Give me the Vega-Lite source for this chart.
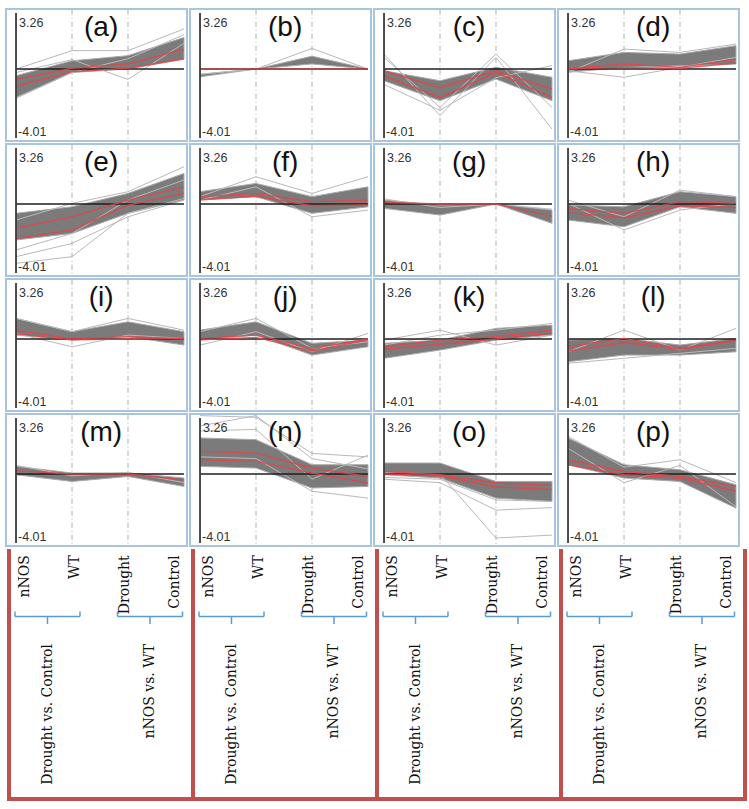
{
"$schema":"https://vega.github.io/schema/vega-lite/v6.json",
"padding":{"left":5,"top":8,"right":0,"bottom":0},
"background":"white",
"config":{"view":{"stroke":null},"font":"Liberation Sans","header":{"labels":false,"title":null,"labelExpr":"''","labelFontSize":0,"labelPadding":0,"titlePadding":0,"titleFontSize":0},"headerFacet":{"labels":false,"title":null,"labelExpr":"''","labelFontSize":0,"labelPadding":0,"titlePadding":0}},
"spacing":0,
"vconcat":[
{
"data":{"values":[
{"p":"a","k":"l","lab":"(a)"},
{"p":"a","k":"b","x":0,"lo":-1.65,"hi":-0.39},{"p":"a","k":"b","x":1,"lo":-0.2,"hi":0.48},{"p":"a","k":"b","x":2,"lo":0.0,"hi":0.78},{"p":"a","k":"b","x":3,"lo":0.58,"hi":1.84},
{"p":"a","k":"r","s":"r1","x":0,"y":-0.6},{"p":"a","k":"r","s":"r1","x":1,"y":0.05},{"p":"a","k":"r","s":"r1","x":2,"y":0.3},{"p":"a","k":"r","s":"r1","x":3,"y":1.15},
{"p":"a","k":"r","s":"r2","x":0,"y":-1.0},{"p":"a","k":"r","s":"r2","x":1,"y":-0.15},{"p":"a","k":"r","s":"r2","x":2,"y":0.05},{"p":"a","k":"r","s":"r2","x":3,"y":0.6},
{"p":"a","k":"o","s":"o1","x":0,"y":0.0},{"p":"a","k":"o","s":"o1","x":1,"y":1.07},{"p":"a","k":"o","s":"o1","x":2,"y":1.07},{"p":"a","k":"o","s":"o1","x":3,"y":2.33},
{"p":"a","k":"o","s":"o2","x":0,"y":-0.2},{"p":"a","k":"o","s":"o2","x":1,"y":0.55},{"p":"a","k":"o","s":"o2","x":2,"y":-0.6},{"p":"a","k":"o","s":"o2","x":3,"y":1.5},
{"p":"a","k":"o","s":"o3","x":0,"y":-1.7},{"p":"a","k":"o","s":"o3","x":1,"y":-0.2},{"p":"a","k":"o","s":"o3","x":2,"y":0.6},{"p":"a","k":"o","s":"o3","x":3,"y":2.0},

{"p":"b","k":"l","lab":"(b)"},
{"p":"b","k":"b","x":0,"lo":-0.45,"hi":-0.3},{"p":"b","k":"b","x":1,"lo":0.0,"hi":0.0},{"p":"b","k":"b","x":2,"lo":0.3,"hi":0.75},{"p":"b","k":"b","x":3,"lo":0.0,"hi":0.0},
{"p":"b","k":"r","s":"r1","x":0,"y":0.0},{"p":"b","k":"r","s":"r1","x":1,"y":0.0},{"p":"b","k":"r","s":"r1","x":2,"y":0.0},{"p":"b","k":"r","s":"r1","x":3,"y":0.0},
{"p":"b","k":"o","s":"o1","x":0,"y":-0.3},{"p":"b","k":"o","s":"o1","x":1,"y":0.0},{"p":"b","k":"o","s":"o1","x":2,"y":1.2},{"p":"b","k":"o","s":"o1","x":3,"y":0.0},

{"p":"c","k":"l","lab":"(c)"},
{"p":"c","k":"b","x":0,"lo":-0.68,"hi":-0.1},{"p":"c","k":"b","x":1,"lo":-1.84,"hi":-0.68},{"p":"c","k":"b","x":2,"lo":-0.58,"hi":0.1},{"p":"c","k":"b","x":3,"lo":-1.84,"hi":-0.48},
{"p":"c","k":"r","s":"r1","x":0,"y":-0.1},{"p":"c","k":"r","s":"r1","x":1,"y":-1.07},{"p":"c","k":"r","s":"r1","x":2,"y":-0.1},{"p":"c","k":"r","s":"r1","x":3,"y":-1.16},
{"p":"c","k":"r","s":"r2","x":0,"y":-0.39},{"p":"c","k":"r","s":"r2","x":1,"y":-1.65},{"p":"c","k":"r","s":"r2","x":2,"y":-0.2},{"p":"c","k":"r","s":"r2","x":3,"y":-1.65},
{"p":"c","k":"o","s":"o1","x":0,"y":0.87},{"p":"c","k":"o","s":"o1","x":1,"y":-2.71},{"p":"c","k":"o","s":"o1","x":2,"y":0.68},{"p":"c","k":"o","s":"o1","x":3,"y":-3.49},
{"p":"c","k":"o","s":"o2","x":0,"y":0.68},{"p":"c","k":"o","s":"o2","x":1,"y":-2.23},{"p":"c","k":"o","s":"o2","x":2,"y":0.87},{"p":"c","k":"o","s":"o2","x":3,"y":-2.23},
{"p":"c","k":"o","s":"o3","x":0,"y":-0.9},{"p":"c","k":"o","s":"o3","x":1,"y":-2.4},{"p":"c","k":"o","s":"o3","x":2,"y":-0.5},{"p":"c","k":"o","s":"o3","x":3,"y":0.2},

{"p":"d","k":"l","lab":"(d)"},
{"p":"d","k":"b","x":0,"lo":-0.19,"hi":0.48},{"p":"d","k":"b","x":1,"lo":0.1,"hi":0.97},{"p":"d","k":"b","x":2,"lo":0.19,"hi":0.87},{"p":"d","k":"b","x":3,"lo":0.29,"hi":1.36},
{"p":"d","k":"r","s":"r1","x":0,"y":0.0},{"p":"d","k":"r","s":"r1","x":1,"y":0.3},{"p":"d","k":"r","s":"r1","x":2,"y":0.1},{"p":"d","k":"r","s":"r1","x":3,"y":0.58},
{"p":"d","k":"r","s":"r2","x":0,"y":0.0},{"p":"d","k":"r","s":"r2","x":1,"y":0.1},{"p":"d","k":"r","s":"r2","x":2,"y":0.05},{"p":"d","k":"r","s":"r2","x":3,"y":0.35},
{"p":"d","k":"o","s":"o1","x":0,"y":-0.19},{"p":"d","k":"o","s":"o1","x":1,"y":1.16},{"p":"d","k":"o","s":"o1","x":2,"y":0.97},{"p":"d","k":"o","s":"o1","x":3,"y":1.45},
{"p":"d","k":"o","s":"o2","x":0,"y":-0.1},{"p":"d","k":"o","s":"o2","x":1,"y":-0.48},{"p":"d","k":"o","s":"o2","x":2,"y":0.1},{"p":"d","k":"o","s":"o2","x":3,"y":0.68},

{"p":"e","k":"l","lab":"(e)"},
{"p":"e","k":"b","x":0,"lo":-2.09,"hi":-0.54},{"p":"e","k":"b","x":1,"lo":-1.71,"hi":-0.16},{"p":"e","k":"b","x":2,"lo":-0.54,"hi":0.62},{"p":"e","k":"b","x":3,"lo":0.23,"hi":1.78},
{"p":"e","k":"r","s":"r1","x":0,"y":-1.41},{"p":"e","k":"r","s":"r1","x":1,"y":-0.74},{"p":"e","k":"r","s":"r1","x":2,"y":0.23},{"p":"e","k":"r","s":"r1","x":3,"y":1.0},
{"p":"e","k":"r","s":"r2","x":0,"y":-2.0},{"p":"e","k":"r","s":"r2","x":1,"y":-1.51},{"p":"e","k":"r","s":"r2","x":2,"y":-0.06},{"p":"e","k":"r","s":"r2","x":3,"y":0.62},
{"p":"e","k":"o","s":"o1","x":0,"y":-3.45},{"p":"e","k":"o","s":"o1","x":1,"y":-3.06},{"p":"e","k":"o","s":"o1","x":2,"y":-0.54},{"p":"e","k":"o","s":"o1","x":3,"y":0.33},
{"p":"e","k":"o","s":"o2","x":0,"y":-3.06},{"p":"e","k":"o","s":"o2","x":1,"y":-2.29},{"p":"e","k":"o","s":"o2","x":2,"y":-0.74},{"p":"e","k":"o","s":"o2","x":3,"y":0.23},
{"p":"e","k":"o","s":"o3","x":0,"y":-0.93},{"p":"e","k":"o","s":"o3","x":1,"y":0.04},{"p":"e","k":"o","s":"o3","x":2,"y":0.72},{"p":"e","k":"o","s":"o3","x":3,"y":2.17},
{"p":"e","k":"o","s":"o4","x":0,"y":-2.67},{"p":"e","k":"o","s":"o4","x":1,"y":-1.71},{"p":"e","k":"o","s":"o4","x":2,"y":0.23},{"p":"e","k":"o","s":"o4","x":3,"y":1.4},

{"p":"f","k":"l","lab":"(f)"},
{"p":"f","k":"b","x":0,"lo":0.23,"hi":0.72},{"p":"f","k":"b","x":1,"lo":0.43,"hi":1.2},{"p":"f","k":"b","x":2,"lo":-0.54,"hi":0.43},{"p":"f","k":"b","x":3,"lo":-0.16,"hi":1.0},
{"p":"f","k":"r","s":"r1","x":0,"y":0.43},{"p":"f","k":"r","s":"r1","x":1,"y":0.62},{"p":"f","k":"r","s":"r1","x":2,"y":0.14},{"p":"f","k":"r","s":"r1","x":3,"y":0.23},
{"p":"f","k":"r","s":"r2","x":0,"y":0.25},{"p":"f","k":"r","s":"r2","x":1,"y":0.45},{"p":"f","k":"r","s":"r2","x":2,"y":-0.1},{"p":"f","k":"r","s":"r2","x":3,"y":-0.05},
{"p":"f","k":"o","s":"o1","x":0,"y":0.43},{"p":"f","k":"o","s":"o1","x":1,"y":1.59},{"p":"f","k":"o","s":"o1","x":2,"y":0.62},{"p":"f","k":"o","s":"o1","x":3,"y":1.59},
{"p":"f","k":"o","s":"o2","x":0,"y":0.23},{"p":"f","k":"o","s":"o2","x":1,"y":1.0},{"p":"f","k":"o","s":"o2","x":2,"y":-0.74},{"p":"f","k":"o","s":"o2","x":3,"y":-0.35},

{"p":"g","k":"l","lab":"(g)"},
{"p":"g","k":"b","x":0,"lo":-0.25,"hi":0.23},{"p":"g","k":"b","x":1,"lo":-0.64,"hi":-0.06},{"p":"g","k":"b","x":2,"lo":0.0,"hi":0.0},{"p":"g","k":"b","x":3,"lo":-1.12,"hi":-0.35},
{"p":"g","k":"r","s":"r1","x":0,"y":0.1},{"p":"g","k":"r","s":"r1","x":1,"y":0.0},{"p":"g","k":"r","s":"r1","x":2,"y":0.0},{"p":"g","k":"r","s":"r1","x":3,"y":-0.7},
{"p":"g","k":"o","s":"o1","x":0,"y":0.3},{"p":"g","k":"o","s":"o1","x":1,"y":-0.2},{"p":"g","k":"o","s":"o1","x":2,"y":0.0},{"p":"g","k":"o","s":"o1","x":3,"y":-0.3},

{"p":"h","k":"l","lab":"(h)"},
{"p":"h","k":"b","x":0,"lo":-0.93,"hi":-0.06},{"p":"h","k":"b","x":1,"lo":-1.32,"hi":-0.16},{"p":"h","k":"b","x":2,"lo":-0.16,"hi":0.72},{"p":"h","k":"b","x":3,"lo":-0.54,"hi":0.43},
{"p":"h","k":"r","s":"r1","x":0,"y":-0.25},{"p":"h","k":"r","s":"r1","x":1,"y":-0.54},{"p":"h","k":"r","s":"r1","x":2,"y":0.14},{"p":"h","k":"r","s":"r1","x":3,"y":0.04},
{"p":"h","k":"r","s":"r2","x":0,"y":-0.5},{"p":"h","k":"r","s":"r2","x":1,"y":-0.8},{"p":"h","k":"r","s":"r2","x":2,"y":-0.1},{"p":"h","k":"r","s":"r2","x":3,"y":-0.2},
{"p":"h","k":"o","s":"o1","x":0,"y":0.04},{"p":"h","k":"o","s":"o1","x":1,"y":-1.51},{"p":"h","k":"o","s":"o1","x":2,"y":-0.35},{"p":"h","k":"o","s":"o1","x":3,"y":0.04},
{"p":"h","k":"o","s":"o2","x":0,"y":0.23},{"p":"h","k":"o","s":"o2","x":1,"y":-0.74},{"p":"h","k":"o","s":"o2","x":2,"y":0.81},{"p":"h","k":"o","s":"o2","x":3,"y":0.43},

{"p":"i","k":"l","lab":"(i)"},
{"p":"i","k":"b","x":0,"lo":0.23,"hi":1.2},{"p":"i","k":"b","x":1,"lo":-0.06,"hi":0.43},{"p":"i","k":"b","x":2,"lo":0.14,"hi":1.0},{"p":"i","k":"b","x":3,"lo":-0.35,"hi":0.43},
{"p":"i","k":"r","s":"r1","x":0,"y":0.52},{"p":"i","k":"r","s":"r1","x":1,"y":0.0},{"p":"i","k":"r","s":"r1","x":2,"y":0.14},{"p":"i","k":"r","s":"r1","x":3,"y":0.0},
{"p":"i","k":"r","s":"r2","x":0,"y":0.3},{"p":"i","k":"r","s":"r2","x":1,"y":-0.05},{"p":"i","k":"r","s":"r2","x":2,"y":0.0},{"p":"i","k":"r","s":"r2","x":3,"y":0.05},
{"p":"i","k":"o","s":"o1","x":0,"y":0.33},{"p":"i","k":"o","s":"o1","x":1,"y":-0.45},{"p":"i","k":"o","s":"o1","x":2,"y":0.23},{"p":"i","k":"o","s":"o1","x":3,"y":0.04},
{"p":"i","k":"o","s":"o2","x":0,"y":1.2},{"p":"i","k":"o","s":"o2","x":1,"y":0.43},{"p":"i","k":"o","s":"o2","x":2,"y":1.2},{"p":"i","k":"o","s":"o2","x":3,"y":0.52},

{"p":"j","k":"l","lab":"(j)"},
{"p":"j","k":"b","x":0,"lo":-0.06,"hi":0.52},{"p":"j","k":"b","x":1,"lo":0.23,"hi":1.0},{"p":"j","k":"b","x":2,"lo":-0.93,"hi":-0.25},{"p":"j","k":"b","x":3,"lo":-0.45,"hi":-0.06},
{"p":"j","k":"r","s":"r1","x":0,"y":0.04},{"p":"j","k":"r","s":"r1","x":1,"y":0.23},{"p":"j","k":"r","s":"r1","x":2,"y":-0.54},{"p":"j","k":"r","s":"r1","x":3,"y":0.0},
{"p":"j","k":"r","s":"r2","x":0,"y":-0.05},{"p":"j","k":"r","s":"r2","x":1,"y":0.1},{"p":"j","k":"r","s":"r2","x":2,"y":-0.7},{"p":"j","k":"r","s":"r2","x":3,"y":-0.05},
{"p":"j","k":"o","s":"o1","x":0,"y":-0.35},{"p":"j","k":"o","s":"o1","x":1,"y":0.43},{"p":"j","k":"o","s":"o1","x":2,"y":-0.74},{"p":"j","k":"o","s":"o1","x":3,"y":0.33},
{"p":"j","k":"o","s":"o2","x":0,"y":0.43},{"p":"j","k":"o","s":"o2","x":1,"y":1.2},{"p":"j","k":"o","s":"o2","x":2,"y":-0.54},{"p":"j","k":"o","s":"o2","x":3,"y":-0.16},

{"p":"k","k":"l","lab":"(k)"},
{"p":"k","k":"b","x":0,"lo":-1.12,"hi":-0.25},{"p":"k","k":"b","x":1,"lo":-0.64,"hi":-0.06},{"p":"k","k":"b","x":2,"lo":-0.06,"hi":0.62},{"p":"k","k":"b","x":3,"lo":0.23,"hi":0.81},
{"p":"k","k":"r","s":"r1","x":0,"y":-0.45},{"p":"k","k":"r","s":"r1","x":1,"y":-0.06},{"p":"k","k":"r","s":"r1","x":2,"y":0.14},{"p":"k","k":"r","s":"r1","x":3,"y":0.52},
{"p":"k","k":"r","s":"r2","x":0,"y":-0.6},{"p":"k","k":"r","s":"r2","x":1,"y":-0.3},{"p":"k","k":"r","s":"r2","x":2,"y":0.0},{"p":"k","k":"r","s":"r2","x":3,"y":0.35},
{"p":"k","k":"o","s":"o1","x":0,"y":-0.06},{"p":"k","k":"o","s":"o1","x":1,"y":0.52},{"p":"k","k":"o","s":"o1","x":2,"y":-0.35},{"p":"k","k":"o","s":"o1","x":3,"y":0.23},
{"p":"k","k":"o","s":"o2","x":0,"y":-0.35},{"p":"k","k":"o","s":"o2","x":1,"y":0.23},{"p":"k","k":"o","s":"o2","x":2,"y":0.52},{"p":"k","k":"o","s":"o2","x":3,"y":0.91},

{"p":"l","k":"l","lab":"(l)"},
{"p":"l","k":"b","x":0,"lo":-1.32,"hi":-0.06},{"p":"l","k":"b","x":1,"lo":-0.93,"hi":0.04},{"p":"l","k":"b","x":2,"lo":-0.93,"hi":-0.35},{"p":"l","k":"b","x":3,"lo":-0.74,"hi":0.04},
{"p":"l","k":"r","s":"r1","x":0,"y":-0.45},{"p":"l","k":"r","s":"r1","x":1,"y":0.04},{"p":"l","k":"r","s":"r1","x":2,"y":-0.54},{"p":"l","k":"r","s":"r1","x":3,"y":-0.06},
{"p":"l","k":"r","s":"r2","x":0,"y":-0.7},{"p":"l","k":"r","s":"r2","x":1,"y":-0.2},{"p":"l","k":"r","s":"r2","x":2,"y":-0.6},{"p":"l","k":"r","s":"r2","x":3,"y":-0.1},
{"p":"l","k":"o","s":"o1","x":0,"y":-0.74},{"p":"l","k":"o","s":"o1","x":1,"y":0.52},{"p":"l","k":"o","s":"o1","x":2,"y":-0.64},{"p":"l","k":"o","s":"o1","x":3,"y":0.62},
{"p":"l","k":"o","s":"o2","x":0,"y":-1.41},{"p":"l","k":"o","s":"o2","x":1,"y":-1.12},{"p":"l","k":"o","s":"o2","x":2,"y":-0.83},{"p":"l","k":"o","s":"o2","x":3,"y":-0.54},

{"p":"m","k":"l","lab":"(m)"},
{"p":"m","k":"b","x":0,"lo":-0.04,"hi":0.45},{"p":"m","k":"b","x":1,"lo":-0.43,"hi":0.06},{"p":"m","k":"b","x":2,"lo":-0.14,"hi":0.06},{"p":"m","k":"b","x":3,"lo":-0.72,"hi":-0.23},
{"p":"m","k":"r","s":"r1","x":0,"y":0.2},{"p":"m","k":"r","s":"r1","x":1,"y":0.0},{"p":"m","k":"r","s":"r1","x":2,"y":0.0},{"p":"m","k":"r","s":"r1","x":3,"y":-0.35},
{"p":"m","k":"o","s":"o1","x":0,"y":0.5},{"p":"m","k":"o","s":"o1","x":1,"y":-0.1},{"p":"m","k":"o","s":"o1","x":2,"y":0.1},{"p":"m","k":"o","s":"o1","x":3,"y":-0.5},

{"p":"n","k":"l","lab":"(n)"},
{"p":"n","k":"b","x":0,"lo":0.45,"hi":2.1},{"p":"n","k":"b","x":1,"lo":0.35,"hi":2.0},{"p":"n","k":"b","x":2,"lo":-0.81,"hi":0.54},{"p":"n","k":"b","x":3,"lo":-0.72,"hi":0.54},
{"p":"n","k":"r","s":"r1","x":0,"y":1.32},{"p":"n","k":"r","s":"r1","x":1,"y":1.22},{"p":"n","k":"r","s":"r1","x":2,"y":0.35},{"p":"n","k":"r","s":"r1","x":3,"y":-0.14},
{"p":"n","k":"r","s":"r2","x":0,"y":0.83},{"p":"n","k":"r","s":"r2","x":1,"y":0.74},{"p":"n","k":"r","s":"r2","x":2,"y":0.06},{"p":"n","k":"r","s":"r2","x":3,"y":-0.52},
{"p":"n","k":"o","s":"o1","x":0,"y":3.4},{"p":"n","k":"o","s":"o1","x":1,"y":3.3},{"p":"n","k":"o","s":"o1","x":2,"y":1.2},{"p":"n","k":"o","s":"o1","x":3,"y":1.0},
{"p":"n","k":"o","s":"o2","x":0,"y":2.8},{"p":"n","k":"o","s":"o2","x":1,"y":3.4},{"p":"n","k":"o","s":"o2","x":2,"y":0.9},{"p":"n","k":"o","s":"o2","x":3,"y":0.3},
{"p":"n","k":"o","s":"o3","x":0,"y":1.0},{"p":"n","k":"o","s":"o3","x":1,"y":0.9},{"p":"n","k":"o","s":"o3","x":2,"y":-1.0},{"p":"n","k":"o","s":"o3","x":3,"y":-1.4},
{"p":"n","k":"o","s":"o4","x":0,"y":2.5},{"p":"n","k":"o","s":"o4","x":1,"y":2.6},{"p":"n","k":"o","s":"o4","x":2,"y":-0.3},{"p":"n","k":"o","s":"o4","x":3,"y":1.1},

{"p":"o","k":"l","lab":"(o)"},
{"p":"o","k":"b","x":0,"lo":-0.04,"hi":0.64},{"p":"o","k":"b","x":1,"lo":-0.23,"hi":0.64},{"p":"o","k":"b","x":2,"lo":-1.4,"hi":-0.43},{"p":"o","k":"b","x":3,"lo":-1.59,"hi":-0.43},
{"p":"o","k":"r","s":"r1","x":0,"y":0.15},{"p":"o","k":"r","s":"r1","x":1,"y":-0.04},{"p":"o","k":"r","s":"r1","x":2,"y":-0.52},{"p":"o","k":"r","s":"r1","x":3,"y":-0.66},
{"p":"o","k":"r","s":"r2","x":0,"y":0.0},{"p":"o","k":"r","s":"r2","x":1,"y":-0.1},{"p":"o","k":"r","s":"r2","x":2,"y":-0.75},{"p":"o","k":"r","s":"r2","x":3,"y":-0.9},
{"p":"o","k":"o","s":"o1","x":0,"y":-0.3},{"p":"o","k":"o","s":"o1","x":1,"y":-0.5},{"p":"o","k":"o","s":"o1","x":2,"y":-2.1},{"p":"o","k":"o","s":"o1","x":3,"y":-1.95},
{"p":"o","k":"o","s":"o2","x":0,"y":0.1},{"p":"o","k":"o","s":"o2","x":1,"y":0.0},{"p":"o","k":"o","s":"o2","x":2,"y":-3.72},{"p":"o","k":"o","s":"o2","x":3,"y":-3.55},
{"p":"o","k":"o","s":"o3","x":0,"y":-0.2},{"p":"o","k":"o","s":"o3","x":1,"y":-0.3},{"p":"o","k":"o","s":"o3","x":2,"y":-1.5},{"p":"o","k":"o","s":"o3","x":3,"y":-1.6},

{"p":"p","k":"l","lab":"(p)"},
{"p":"p","k":"b","x":0,"lo":0.54,"hi":2.1},{"p":"p","k":"b","x":1,"lo":-0.23,"hi":0.54},{"p":"p","k":"b","x":2,"lo":-0.43,"hi":0.25},{"p":"p","k":"b","x":3,"lo":-1.98,"hi":-0.62},
{"p":"p","k":"r","s":"r1","x":0,"y":0.83},{"p":"p","k":"r","s":"r1","x":1,"y":0.15},{"p":"p","k":"r","s":"r1","x":2,"y":-0.14},{"p":"p","k":"r","s":"r1","x":3,"y":-0.72},
{"p":"p","k":"r","s":"r2","x":0,"y":0.54},{"p":"p","k":"r","s":"r2","x":1,"y":-0.04},{"p":"p","k":"r","s":"r2","x":2,"y":-0.23},{"p":"p","k":"r","s":"r2","x":3,"y":-1.0},
{"p":"p","k":"o","s":"o1","x":0,"y":2.2},{"p":"p","k":"o","s":"o1","x":1,"y":0.4},{"p":"p","k":"o","s":"o1","x":2,"y":0.83},{"p":"p","k":"o","s":"o1","x":3,"y":-0.5},
{"p":"p","k":"o","s":"o2","x":0,"y":1.5},{"p":"p","k":"o","s":"o2","x":1,"y":-0.5},{"p":"p","k":"o","s":"o2","x":2,"y":0.5},{"p":"p","k":"o","s":"o2","x":3,"y":-1.9}
]},
"facet":{"field":"p","type":"nominal","header":{"labels":false,"title":null,"labelExpr":"''","labelFontSize":0,"labelPadding":0,"titlePadding":0}},
"columns":4,
"spacing":3,
"bounds":"flush",
"spec":{
"width":181,"height":132,
"view":{"stroke":"#a9c5de","strokeWidth":2},
"layer":[
{"transform":[{"filter":"datum.k=='l'"}],"mark":{"type":"rule","color":"#bcbcbc","strokeDash":[5,3,1,3],"strokeWidth":1.2},
 "encoding":{"x":{"datum":1,"type":"quantitative","scale":{"domain":[-0.179,3.054],"nice":false,"zero":false},"axis":null},
 "y":{"datum":3.45,"type":"quantitative","scale":{"domain":[-4.185,3.493],"nice":false,"zero":false},"axis":null},"y2":{"datum":-4.15}}},
{"transform":[{"filter":"datum.k=='l'"}],"mark":{"type":"rule","color":"#bcbcbc","strokeDash":[5,3,1,3],"strokeWidth":1.2},
 "encoding":{"x":{"datum":2,"type":"quantitative","scale":{"domain":[-0.179,3.054],"nice":false,"zero":false},"axis":null},
 "y":{"datum":3.45,"type":"quantitative","scale":{"domain":[-4.185,3.493],"nice":false,"zero":false},"axis":null},"y2":{"datum":-4.15}}},
{"transform":[{"filter":"datum.k=='b'"}],"mark":{"type":"area","color":"#7b7b7b","stroke":"#a8a8a8","strokeWidth":1,"clip":true},
 "encoding":{"x":{"field":"x","type":"quantitative","scale":{"domain":[-0.179,3.054],"nice":false,"zero":false},"axis":null},
 "y":{"field":"lo","type":"quantitative","scale":{"domain":[-4.185,3.493],"nice":false,"zero":false},"axis":null},"y2":{"field":"hi"}}},
{"transform":[{"filter":"datum.k=='o'"}],"mark":{"type":"line","color":"#b9b9b9","strokeWidth":1,"clip":true},
 "encoding":{"x":{"field":"x","type":"quantitative","scale":{"domain":[-0.179,3.054],"nice":false,"zero":false},"axis":null},
 "y":{"field":"y","type":"quantitative","scale":{"domain":[-4.185,3.493],"nice":false,"zero":false},"axis":null},"detail":{"field":"s"}}},
{"transform":[{"filter":"datum.k=='l'"}],"mark":{"type":"rule","color":"#1e1e1e","strokeWidth":1.5},
 "encoding":{"x":{"datum":0,"type":"quantitative","scale":{"domain":[-0.179,3.054],"nice":false,"zero":false},"axis":null},"x2":{"datum":3},
 "y":{"datum":0,"type":"quantitative","scale":{"domain":[-4.185,3.493],"nice":false,"zero":false},"axis":null}}},
{"transform":[{"filter":"datum.k=='r'"}],"mark":{"type":"line","color":"#e0454a","strokeWidth":1.4,"opacity":0.85,"clip":true},
 "encoding":{"x":{"field":"x","type":"quantitative","scale":{"domain":[-0.179,3.054],"nice":false,"zero":false},"axis":null},
 "y":{"field":"y","type":"quantitative","scale":{"domain":[-4.185,3.493],"nice":false,"zero":false},"axis":null},"detail":{"field":"s"}}},
{"transform":[{"filter":"datum.k=='l'"}],"mark":{"type":"rule","color":"#3a3a3a","strokeWidth":1.8},
 "encoding":{"x":{"datum":0,"type":"quantitative","scale":{"domain":[-0.179,3.054],"nice":false,"zero":false},"axis":null},
 "y":{"datum":3.26,"type":"quantitative","scale":{"domain":[-4.185,3.493],"nice":false,"zero":false},"axis":null},"y2":{"datum":-4.01}}},
{"transform":[{"filter":"datum.k=='l'"}],"mark":{"type":"text","align":"left","baseline":"middle","dx":3,"fontSize":12.5,"color":"#333333","font":"Liberation Sans"},
 "encoding":{"x":{"datum":0,"type":"quantitative","scale":{"domain":[-0.179,3.054],"nice":false,"zero":false},"axis":null},
 "y":{"datum":2.7,"type":"quantitative","scale":{"domain":[-4.185,3.493],"nice":false,"zero":false},"axis":null},"text":{"value":"3.26"}}},
{"transform":[{"filter":"datum.k=='l'"}],"mark":{"type":"text","align":"left","baseline":"middle","dx":2,"fontSize":12.5,"color":"#333333","font":"Liberation Sans"},
 "encoding":{"x":{"datum":0,"type":"quantitative","scale":{"domain":[-0.179,3.054],"nice":false,"zero":false},"axis":null},
 "y":{"datum":-3.66,"type":"quantitative","scale":{"domain":[-4.185,3.493],"nice":false,"zero":false},"axis":null},"text":{"value":"-4.01"}}},
{"transform":[{"filter":"datum.k=='l'"}],"mark":{"type":"text","align":"center","baseline":"middle","fontSize":28,"color":"#111111","font":"Liberation Sans"},
 "encoding":{"x":{"datum":1.52,"type":"quantitative","scale":{"domain":[-0.179,3.054],"nice":false,"zero":false},"axis":null},
 "y":{"datum":2.39,"type":"quantitative","scale":{"domain":[-4.185,3.493],"nice":false,"zero":false},"axis":null},"text":{"field":"lab"}}}
]}
},
{
"data":{"values":[
{"box":1,"k":"c","lab":"nNOS","x":0},{"box":1,"k":"c","lab":"WT","x":1},{"box":1,"k":"c","lab":"Drought","x":2},{"box":1,"k":"c","lab":"Control","x":3},
{"box":1,"k":"g","lab":"Drought vs. Control","x":0.45,"x0":-0.2,"x1":1.1},{"box":1,"k":"g","lab":"nNOS vs. WT","x":2.5,"x0":1.85,"x1":3.15},
{"box":2,"k":"c","lab":"nNOS","x":0},{"box":2,"k":"c","lab":"WT","x":1},{"box":2,"k":"c","lab":"Drought","x":2},{"box":2,"k":"c","lab":"Control","x":3},
{"box":2,"k":"g","lab":"Drought vs. Control","x":0.45,"x0":-0.2,"x1":1.1},{"box":2,"k":"g","lab":"nNOS vs. WT","x":2.5,"x0":1.85,"x1":3.15},
{"box":3,"k":"c","lab":"nNOS","x":0},{"box":3,"k":"c","lab":"WT","x":1},{"box":3,"k":"c","lab":"Drought","x":2},{"box":3,"k":"c","lab":"Control","x":3},
{"box":3,"k":"g","lab":"Drought vs. Control","x":0.45,"x0":-0.2,"x1":1.1},{"box":3,"k":"g","lab":"nNOS vs. WT","x":2.5,"x0":1.85,"x1":3.15},
{"box":4,"k":"c","lab":"nNOS","x":0},{"box":4,"k":"c","lab":"WT","x":1},{"box":4,"k":"c","lab":"Drought","x":2},{"box":4,"k":"c","lab":"Control","x":3},
{"box":4,"k":"g","lab":"Drought vs. Control","x":0.45,"x0":-0.2,"x1":1.1},{"box":4,"k":"g","lab":"nNOS vs. WT","x":2.5,"x0":1.85,"x1":3.15}
]},
"facet":{"field":"box","type":"ordinal","header":{"labels":false,"title":null,"labelExpr":"''","labelFontSize":0,"labelPadding":0,"titlePadding":0}},
"columns":4,
"spacing":3,
"bounds":"flush",
"spec":{
"width":181,"height":250,
"view":{"stroke":null},
"layer":[
{"transform":[{"filter":"datum.k=='c' && datum.x==0"}],"mark":{"type":"rule","color":"#c0504d","strokeWidth":4},
 "encoding":{"x":{"datum":-0.32,"type":"quantitative","scale":{"domain":[-0.38,3.24],"nice":false,"zero":false},"axis":null},
 "y":{"datum":0,"type":"quantitative","scale":{"domain":[0,1],"reverse":true,"nice":false,"zero":false},"axis":null},"y2":{"datum":1}}},
{"transform":[{"filter":"datum.k=='c' && datum.x==0"}],"mark":{"type":"rule","color":"#c0504d","strokeWidth":4},
 "encoding":{"x":{"datum":3.36,"type":"quantitative","scale":{"domain":[-0.38,3.24],"nice":false,"zero":false},"axis":null},
 "y":{"datum":0,"type":"quantitative","scale":{"domain":[0,1],"reverse":true,"nice":false,"zero":false},"axis":null},"y2":{"datum":1}}},
{"transform":[{"filter":"datum.k=='c' && datum.x==0"}],"mark":{"type":"rule","color":"#c0504d","strokeWidth":4,"strokeCap":"square"},
 "encoding":{"x":{"datum":-0.32,"type":"quantitative","scale":{"domain":[-0.38,3.24],"nice":false,"zero":false},"axis":null},"x2":{"datum":3.36},
 "y":{"datum":1,"type":"quantitative","scale":{"domain":[0,1],"reverse":true,"nice":false,"zero":false},"axis":null}}},
{"transform":[{"filter":"datum.k=='c'"}],"mark":{"type":"text","angle":270,"align":"right","baseline":"middle","font":"DejaVu Serif","fontSize":14,"color":"#111111"},
 "encoding":{"x":{"field":"x","type":"quantitative","scale":{"domain":[-0.38,3.24],"nice":false,"zero":false},"axis":null},
 "y":{"datum":0.025,"type":"quantitative","scale":{"domain":[0,1],"reverse":true,"nice":false,"zero":false},"axis":null},"text":{"field":"lab"}}},
{"transform":[{"filter":"datum.k=='g'"}],"mark":{"type":"rule","color":"#5b9bd5","strokeWidth":1.5},
 "encoding":{"x":{"field":"x0","type":"quantitative","scale":{"domain":[-0.38,3.24],"nice":false,"zero":false},"axis":null},"x2":{"field":"x1"},
 "y":{"datum":0.27,"type":"quantitative","scale":{"domain":[0,1],"reverse":true,"nice":false,"zero":false},"axis":null}}},
{"transform":[{"filter":"datum.k=='g'"}],"mark":{"type":"rule","color":"#5b9bd5","strokeWidth":1.5},
 "encoding":{"x":{"field":"x0","type":"quantitative","scale":{"domain":[-0.38,3.24],"nice":false,"zero":false},"axis":null},
 "y":{"datum":0.25,"type":"quantitative","scale":{"domain":[0,1],"reverse":true,"nice":false,"zero":false},"axis":null},"y2":{"datum":0.27}}},
{"transform":[{"filter":"datum.k=='g'"}],"mark":{"type":"rule","color":"#5b9bd5","strokeWidth":1.5},
 "encoding":{"x":{"field":"x1","type":"quantitative","scale":{"domain":[-0.38,3.24],"nice":false,"zero":false},"axis":null},
 "y":{"datum":0.25,"type":"quantitative","scale":{"domain":[0,1],"reverse":true,"nice":false,"zero":false},"axis":null},"y2":{"datum":0.27}}},
{"transform":[{"filter":"datum.k=='g'"}],"mark":{"type":"rule","color":"#5b9bd5","strokeWidth":1.5},
 "encoding":{"x":{"field":"x","type":"quantitative","scale":{"domain":[-0.38,3.24],"nice":false,"zero":false},"axis":null},
 "y":{"datum":0.27,"type":"quantitative","scale":{"domain":[0,1],"reverse":true,"nice":false,"zero":false},"axis":null},"y2":{"datum":0.30}}},
{"transform":[{"filter":"datum.k=='g'"}],"mark":{"type":"text","angle":270,"align":"right","baseline":"middle","font":"DejaVu Serif","fontSize":14,"color":"#111111"},
 "encoding":{"x":{"field":"x","type":"quantitative","scale":{"domain":[-0.38,3.24],"nice":false,"zero":false},"axis":null},
 "y":{"datum":0.38,"type":"quantitative","scale":{"domain":[0,1],"reverse":true,"nice":false,"zero":false},"axis":null},"text":{"field":"lab"}}}
]}
}
]
}
